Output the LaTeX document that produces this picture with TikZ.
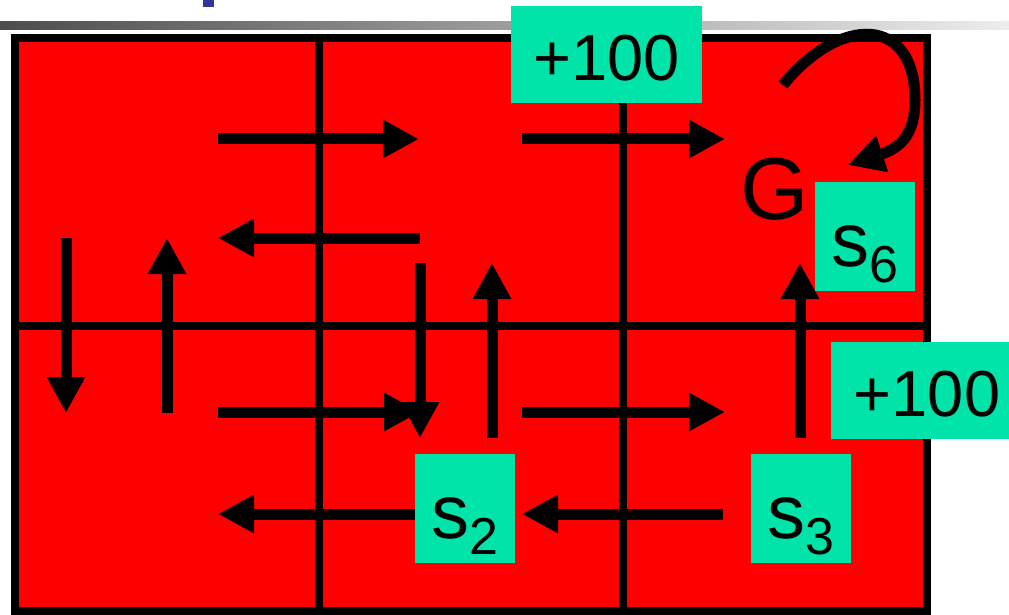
\documentclass[tikz,border=0pt]{standalone}
\usepackage{fontspec}
\setmainfont{Liberation Sans}
\usepackage{tikz}
\usetikzlibrary{arrows.meta,positioning}
\definecolor{gridred}{RGB}{255,0,0}
\definecolor{rewardgreen}{RGB}{0,228,170}
\definecolor{titleblue}{RGB}{51,51,153}
\newcommand{\stname}[1]{{\fontsize{76}{76}\selectfont s}{\fontsize{52}{52}\selectfont\raisebox{-16pt}{#1}}}

\begin{document}
\begin{tikzpicture}[x=1pt,y=-1pt,
    move/.style={line width=11pt, -{Triangle[length=36pt,width=36pt]}},
    tag/.style={fill=rewardgreen, inner sep=0pt, text=black},
    statetag/.style={tag, minimum width=100pt, minimum height=109pt, text height=59pt, text depth=0pt},
    rewardtag/.style={tag, minimum height=97pt, text height=53pt, text depth=0pt, font=\fontsize{65}{78}\selectfont}]
    \useasboundingbox (0,0) rectangle (1009,615);
    % Title bar
    \shade[left color=black!70, right color=black!7] (0,22) rectangle (1009,30);
    \fill[titleblue] (203,0) rectangle (214,7);
    % Grid world
    \draw[line width=8pt, fill=gridred] (15,38) rectangle (927,611);
    \draw[line width=8pt] (319,38) -- (319,611);
    \draw[line width=8pt] (623,38) -- (623,611);
    \draw[line width=8pt] (15,326) -- (927,326);
    % Moves, top row
    \draw[move] (218,139) -- (419,139);
    \draw[move] (522,139) -- (725,139);
    \draw[move] (420,238) -- (218,238);
    \draw[move] (66,238) -- (66,413);
    \draw[move] (167,413) -- (167,238);
    \draw[move] (420,263) -- (420,438);
    \draw[move] (492,438) -- (492,263);
    \draw[move] (800,438) -- (800,263);
    % Moves, bottom row
    \draw[move] (218,412) -- (420,412);
    \draw[move] (522,412) -- (725,412);
    \draw[move] (415,514) -- (218,514);
    \draw[move] (723,514) -- (522,514);
    % Stay at the goal
    \draw[move] (783,85) .. controls (840,15) and (915,15) .. (915,100)
        .. controls (915,135) and (900,148) .. (848,165);
    % Goal and rewards
    \node[anchor=base, font=\fontsize{88}{90}\selectfont] (goal) at (775,219) {G};
    \node[rewardtag, minimum width=191pt] (topreward) at (606.5,54.5) {+100};
    \node[rewardtag, minimum width=178pt] (sidereward) at (920,390) {\hspace{14pt}+100};
    % States
    \node[statetag] (s6) at (865,236.5) {\stname{6}};
    \node[statetag] (s2) at (465,508.5) {\stname{2}};
    \node[statetag] (s3) at (801,508.5) {\stname{3}};
\end{tikzpicture}
\end{document}
